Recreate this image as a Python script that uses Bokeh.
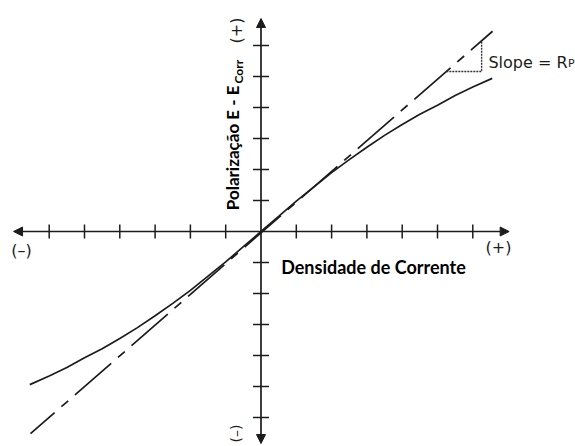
import math

from bokeh.plotting import figure
from bokeh.models import Range1d, Arrow, NormalHead, Label
from bokeh.embed import file_html
from bokeh.resources import INLINE

# Polarization curve (tick units on both axes): current density vs. E - Ecorr
current = [-6.55, -6.0, -5.5, -5.0, -4.5, -4.0, -3.5, -3.0, -2.5, -2.0, -1.5, -1.0, -0.5, 0.0,
           0.5, 1.0, 1.5, 2.0, 2.5, 3.0, 3.5, 4.0, 4.5, 5.0, 5.5, 6.0, 6.55]
polarization = [-4.94, -4.66, -4.39, -4.07, -3.78, -3.45, -3.10, -2.72, -2.32, -1.90, -1.44, -0.98, -0.49, 0.0,
                0.49, 0.98, 1.44, 1.90, 2.32, 2.72, 3.10, 3.45, 3.78, 4.07, 4.39, 4.66, 4.94]

# Tangent at the corrosion potential (slope = Rp)
tangent_x = [-6.53, 6.56]
tangent_y = [-6.52, 6.46]

# Slope triangle on the tangent
slope_x = [5.25, 6.25, 6.25]
slope_y = [5.16, 5.16, 6.15]

# Axis extents and tick positions
x_axis_ends = [-7.01, 7.03]
y_axis_ends = [-6.84, 6.87]
ticks = [-6, -5, -4, -3, -2, -1, 1, 2, 3, 4, 5, 6]

W, H = 575, 446
X0_PX, Y0_PX = 260.5, 231.0   # origin position on the page
SX, SY = 35.3, 31.0           # pixels per tick unit

p = figure(width=W, height=H, output_backend="svg", toolbar_location=None,
           x_axis_type=None, y_axis_type=None, min_border=0,
           x_range=Range1d(-X0_PX / SX, (W - X0_PX) / SX),
           y_range=Range1d((Y0_PX - H) / SY, Y0_PX / SY))
p.grid.visible = False
p.outline_line_color = None
p.background_fill_color = "white"
p.border_fill_color = "white"

INK = "#1c1c1c"

# axes with arrowheads on both ends
p.add_layout(Arrow(x_start=x_axis_ends[0], x_end=x_axis_ends[1], y_start=0, y_end=0,
                   line_color=INK, line_width=1.7,
                   start=NormalHead(size=9, fill_color=INK, line_color=INK),
                   end=NormalHead(size=9, fill_color=INK, line_color=INK)))
p.add_layout(Arrow(x_start=0, x_end=0, y_start=y_axis_ends[0], y_end=y_axis_ends[1],
                   line_color=INK, line_width=1.7,
                   start=NormalHead(size=9, fill_color=INK, line_color=INK),
                   end=NormalHead(size=9, fill_color=INK, line_color=INK)))

# tick marks crossing each axis
hx = 7.0 / SY
hy = 8.0 / SX
p.segment(x0=ticks, x1=ticks, y0=[-hx] * len(ticks), y1=[hx] * len(ticks),
          line_color=INK, line_width=1.5)
p.segment(x0=[-hy] * len(ticks), x1=[hy] * len(ticks), y0=ticks, y1=ticks,
          line_color=INK, line_width=1.5)

# tangent line and measured curve
p.line(tangent_x, tangent_y, line_color=INK, line_width=1.7,
       line_dash="48 9 9 9", line_dash_offset=16)
p.line(current, polarization, line_color=INK, line_width=1.7)

# slope triangle
p.line(slope_x, slope_y, line_color="#333333", line_width=1.4, line_dash="2 1")

def px_x(v):
    return (v - X0_PX) / SX

def px_y(v):
    return (Y0_PX - v) / SY

sign_font = "DejaVu Sans"
p.add_layout(Label(x=px_x(21), y=px_y(250), text="(–)", text_font=sign_font,
                   text_font_size="16px", text_align="center", text_baseline="middle",
                   text_color=INK))
p.add_layout(Label(x=px_x(498), y=px_y(247), text="(+)", text_font=sign_font,
                   text_font_size="16px", text_align="center", text_baseline="middle",
                   text_color=INK))
p.add_layout(Label(x=px_x(236), y=px_y(30), text="(+)", text_font=sign_font,
                   text_font_size="16px", text_align="center", text_baseline="middle",
                   angle=math.pi / 2, text_color=INK))
p.add_layout(Label(x=px_x(235), y=px_y(433), text="(–)", text_font=sign_font,
                   text_font_size="14px", text_align="center", text_baseline="middle",
                   angle=math.pi / 2, text_color=INK))

# axis titles
p.add_layout(Label(x=px_x(373), y=px_y(266), text="Densidade de Corrente",
                   text_font="Lato", text_font_style="bold", text_font_size="18px",
                   text_align="center", text_baseline="middle", text_color="black"))
p.add_layout(Label(x=px_x(232), y=px_y(85), text="Polarização E - E",
                   text_font="Lato", text_font_style="bold", text_font_size="17px",
                   text_align="right", text_baseline="middle", angle=math.pi / 2,
                   text_color="black"))
p.add_layout(Label(x=px_x(238), y=px_y(83), text="Corr",
                   text_font="Lato", text_font_style="bold", text_font_size="12px",
                   text_align="left", text_baseline="middle", angle=math.pi / 2,
                   text_color="black"))

# slope annotation
p.add_layout(Label(x=px_x(567), y=px_y(62), text="Slope = R",
                   text_font="DejaVu Sans", text_font_size="16px",
                   text_align="right", text_baseline="alphabetic", text_color=INK))
p.add_layout(Label(x=px_x(567.5), y=px_y(63), text="P",
                   text_font="DejaVu Sans", text_font_size="11px",
                   text_align="left", text_baseline="alphabetic", text_color=INK))

open("out.html", "w").write(file_html(p, INLINE))
